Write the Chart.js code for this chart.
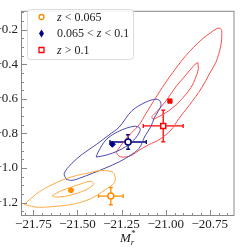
<!DOCTYPE html>
<html>
<head>
<meta charset="utf-8">
<script src="https://cdn.jsdelivr.net/npm/chart.js@4.4.1/dist/chart.umd.min.js"></script>
<style>
  html, body { margin: 0; padding: 0; background: #fff; }
</style>
</head>
<body>
<canvas id="magChart" width="240" height="249"></canvas>
<script>
// tick labels
const xTicks = [-21.75, -21.5, -21.25, -21.0, -20.75];
const yTicks = [-1.2, -1.0, -0.8, -0.6, -0.4, -0.2];

// legend labels, one per redshift bin
const binLabels = ['z < 0.065', '0.065 < z < 0.1', 'z > 0.1'];

// contours, low-z bin (orange)
const lowOuterX = [-21.801, -21.733, -21.660, -21.575, -21.507, -21.445, -21.377, -21.304, -21.287, -21.292, -21.338, -21.394, -21.451, -21.530, -21.620, -21.716, -21.761];
const lowOuterY = [-1.211, -1.150, -1.105, -1.066, -1.044, -1.031, -1.016, -1.022, -1.049, -1.087, -1.122, -1.161, -1.189, -1.211, -1.222, -1.228, -1.222];
const lowInnerX = [-21.643, -21.603, -21.535, -21.473, -21.422, -21.411, -21.445, -21.507, -21.575, -21.631];
const lowInnerY = [-1.161, -1.137, -1.111, -1.090, -1.077, -1.096, -1.123, -1.148, -1.165, -1.168];

// contours, middle bin (blue)
const midOuterX = [-21.564, -21.575, -21.535, -21.473, -21.394, -21.321, -21.264, -21.191, -21.112, -21.055, -21.032, -21.027, -21.044, -21.066, -21.083, -21.117, -21.151, -21.208, -21.264, -21.338, -21.417, -21.490, -21.530];
const midOuterY = [-1.066, -1.032, -0.977, -0.921, -0.865, -0.809, -0.764, -0.669, -0.619, -0.602, -0.613, -0.641, -0.675, -0.714, -0.759, -0.815, -0.887, -0.932, -0.965, -0.999, -1.032, -1.060, -1.072];
const midInnerX = [-21.394, -21.383, -21.338, -21.264, -21.179, -21.146, -21.151, -21.196, -21.264, -21.338];
const midInnerY = [-0.937, -0.909, -0.837, -0.787, -0.759, -0.770, -0.798, -0.854, -0.898, -0.926];

// contours, high-z bin (red)
const highOuterX = [-21.281, -21.225, -21.151, -21.112, -21.055, -20.982, -20.886, -20.795, -20.744, -20.710, -20.688, -20.682, -20.688, -20.716, -20.750, -20.795, -20.869, -20.925, -20.970, -21.038, -21.095, -21.151, -21.191, -21.230, -21.264];
const highOuterY = [-0.909, -0.831, -0.751, -0.686, -0.591, -0.479, -0.351, -0.256, -0.217, -0.194, -0.194, -0.222, -0.295, -0.390, -0.451, -0.535, -0.641, -0.714, -0.781, -0.837, -0.865, -0.898, -0.926, -0.937, -0.932];
const highInnerX = [-20.818, -20.815, -20.829, -20.857, -20.925, -20.982, -21.038, -21.072, -21.078, -21.055, -20.999, -20.942, -20.886, -20.840];
const highInnerY = [-0.390, -0.429, -0.474, -0.535, -0.619, -0.669, -0.703, -0.717, -0.703, -0.680, -0.613, -0.530, -0.463, -0.407];

// sample means (filled markers)
const meanX = [-21.537, -21.302, -20.976];
const meanY = [-1.129, -0.863, -0.613];

// fitted values with errors (open markers)
const fitX = [-21.311, -21.213, -21.014];
const fitY = [-1.163, -0.850, -0.757];
const fitXErr = [0.070, 0.103, 0.113];
const fitYErr = [0.050, 0.042, 0.092];

const markerColors = ['#ff8c00', '#00007f', '#ff0000'];
const contourColors = ['#ffaa44', '#4a4ab0', '#ff4d4d'];
const serif = '"Liberation Serif", "DejaVu Serif", serif';

function toPoints(xs, ys) {
    const pts = xs.map((x, i) => ({ x, y: ys[i] }));
    pts.push({ x: xs[0], y: ys[0] });
    return pts;
}

function contour(xs, ys, color) {
    return {
        data: toPoints(xs, ys),
        showLine: true,
        borderColor: color,
        borderWidth: 1,
        pointRadius: 0,
        tension: 0.35,
        fill: false,
        order: 2
    };
}

function fmt(v, d) {
    return (v < 0 ? '\u2212' : '') + Math.abs(v).toFixed(d);
}

// error bars under the open markers
const errorBars = {
    id: 'errorBars',
    beforeDatasetsDraw(chart) {
        const { ctx, scales: { x, y } } = chart;
        ctx.save();
        ctx.lineWidth = 1.3;
        fitX.forEach((fx, i) => {
            const px = x.getPixelForValue(fx);
            const py = y.getPixelForValue(fitY[i]);
            const x0 = x.getPixelForValue(fx - fitXErr[i]);
            const x1 = x.getPixelForValue(fx + fitXErr[i]);
            const y0 = y.getPixelForValue(fitY[i] - fitYErr[i]);
            const y1 = y.getPixelForValue(fitY[i] + fitYErr[i]);
            ctx.strokeStyle = markerColors[i];
            ctx.beginPath();
            ctx.moveTo(x0, py); ctx.lineTo(x1, py);
            ctx.moveTo(px, y0); ctx.lineTo(px, y1);
            ctx.moveTo(x0, py - 2); ctx.lineTo(x0, py + 2);
            ctx.moveTo(x1, py - 2); ctx.lineTo(x1, py + 2);
            ctx.moveTo(px - 2, y0); ctx.lineTo(px + 2, y0);
            ctx.moveTo(px - 2, y1); ctx.lineTo(px + 2, y1);
            ctx.stroke();
        });
        ctx.restore();
    }
};

// frame, inward ticks, legend and axis title
const decorations = {
    id: 'decorations',
    afterDraw(chart) {
        const { ctx, chartArea: a, scales: { x, y } } = chart;
        ctx.save();
        ctx.strokeStyle = '#888';
        ctx.lineWidth = 1;
        ctx.strokeRect(a.left + 0.5, a.top + 0.5, a.right - a.left - 1, a.bottom - a.top - 1);

        ctx.beginPath();
        for (let v = -21.8; v <= -20.6; v += 0.05) {
            const p = Math.round(x.getPixelForValue(v)) + 0.5;
            if (p <= a.left + 1 || p >= a.right - 1) continue;
            const major = Math.abs(v / 0.25 - Math.round(v / 0.25)) < 1e-6;
            ctx.moveTo(p, a.bottom);
            ctx.lineTo(p, a.bottom - (major ? 6 : 3));
        }
        for (let v = -1.25; v <= -0.05; v += 0.05) {
            const p = Math.round(y.getPixelForValue(v)) + 0.5;
            if (p <= a.top + 1 || p >= a.bottom - 1) continue;
            const major = Math.abs(v / 0.2 - Math.round(v / 0.2)) < 1e-6;
            ctx.moveTo(a.left, p);
            ctx.lineTo(a.left + (major ? 6 : 3), p);
        }
        ctx.stroke();

        // legend box
        ctx.beginPath();
        ctx.roundRect(27.5, 9.5, 106, 50, 3);
        ctx.fillStyle = 'rgba(255,255,255,0.9)';
        ctx.fill();
        ctx.strokeStyle = '#dcdcdc';
        ctx.stroke();

        const rows = [17, 33.5, 50];
        rows.forEach((ry, i) => {
            const mx = 41.5;
            ctx.strokeStyle = markerColors[i];
            ctx.fillStyle = markerColors[i];
            ctx.lineWidth = 1.3;
            ctx.beginPath();
            if (i === 0) {
                ctx.arc(mx, ry, 2.5, 0, Math.PI * 2);
                ctx.stroke();
            } else if (i === 1) {
                ctx.moveTo(mx, ry - 4); ctx.lineTo(mx + 2.5, ry);
                ctx.lineTo(mx, ry + 4); ctx.lineTo(mx - 2.5, ry);
                ctx.closePath();
                ctx.fill();
            } else {
                ctx.rect(mx - 2.5, ry - 2.5, 5, 5);
                ctx.stroke();
            }
            // label with italic z
            let tx = 57;
            ctx.fillStyle = '#222';
            ctx.textBaseline = 'middle';
            binLabels[i].split(/(z)/).forEach(part => {
                if (!part) return;
                ctx.font = (part === 'z' ? 'italic ' : '') + '12px ' + serif;
                ctx.fillText(part, tx, ry + 0.5);
                tx += ctx.measureText(part).width;
            });
        });

        // x axis title M*_r
        const cx = 124;
        ctx.fillStyle = '#222';
        ctx.textBaseline = 'alphabetic';
        ctx.font = 'italic 13px ' + serif;
        ctx.fillText('M', cx - 4, 242);
        const mw = ctx.measureText('M').width;
        ctx.font = 'italic 9px ' + serif;
        ctx.fillText('r', cx - 4 + mw, 245);
        ctx.fillText('*', cx - 4 + mw, 236);
        ctx.restore();
    }
};

new Chart(document.getElementById('magChart'), {
    type: 'scatter',
    data: {
        datasets: [
            {
                data: meanX.map((v, i) => ({ x: v, y: meanY[i] })),
                pointStyle: ['circle', 'rectRot', 'rect'],
                pointRadius: [2.5, 3, 3],
                backgroundColor: markerColors,
                borderColor: markerColors,
                borderWidth: 1,
                order: 0
            },
            {
                data: fitX.map((v, i) => ({ x: v, y: fitY[i] })),
                pointStyle: ['circle', 'circle', 'rect'],
                pointRadius: [3, 3, 3.5],
                backgroundColor: '#fff',
                borderColor: markerColors,
                borderWidth: 1.5,
                order: 0
            },
            contour(lowOuterX, lowOuterY, contourColors[0]),
            contour(lowInnerX, lowInnerY, contourColors[0]),
            contour(midOuterX, midOuterY, contourColors[1]),
            contour(midInnerX, midInnerY, contourColors[1]),
            contour(highOuterX, highOuterY, contourColors[2]),
            contour(highInnerX, highInnerY, contourColors[2])
        ]
    },
    options: {
        responsive: false,
        animation: false,
        devicePixelRatio: 1,
        layout: { padding: { top: 3, right: 4, left: 0, bottom: 0 } },
        plugins: {
            legend: { display: false },
            tooltip: { enabled: false }
        },
        scales: {
            x: {
                type: 'linear',
                min: -21.82,
                max: -20.61,
                afterBuildTicks: s => { s.ticks = xTicks.map(v => ({ value: v })); },
                afterFit: s => { s.height = 33; },
                grid: { display: false, drawTicks: false },
                border: { display: false },
                ticks: {
                    padding: 1,
                    maxRotation: 0,
                    autoSkip: false,
                    color: '#222',
                    font: { family: serif, size: 13 },
                    callback: v => fmt(v, 2)
                }
            },
            y: {
                type: 'linear',
                min: -1.278,
                max: -0.091,
                afterBuildTicks: s => { s.ticks = yTicks.map(v => ({ value: v })); },
                afterFit: s => { s.width = 21; },
                grid: { display: false, drawTicks: false },
                border: { display: false },
                ticks: {
                    padding: 3,
                    autoSkip: false,
                    color: '#222',
                    font: { family: serif, size: 13 },
                    callback: v => fmt(v, 1)
                }
            }
        }
    },
    plugins: [errorBars, decorations]
});
</script>
</body>
</html>
